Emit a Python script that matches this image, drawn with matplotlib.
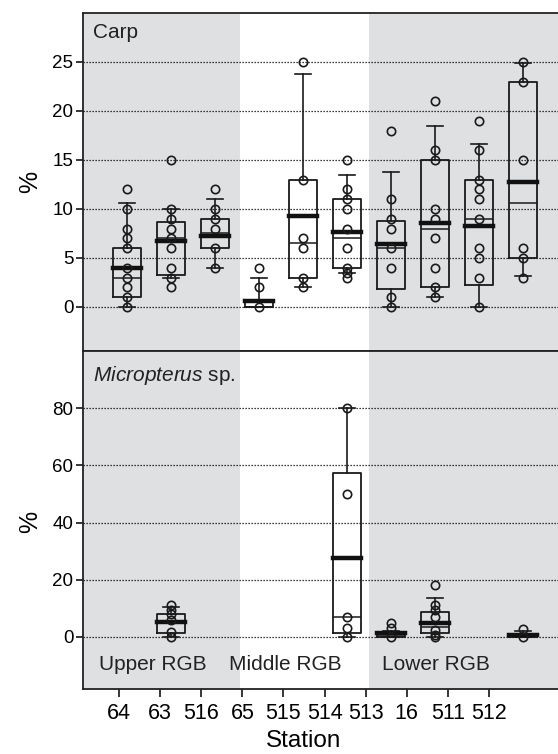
import numpy as np
import matplotlib
matplotlib.use("Agg")
import matplotlib.pyplot as plt

plt.rcParams['font.family'] = ['Liberation Sans', 'DejaVu Sans']
plt.rcParams['mathtext.fontset'] = 'custom'
plt.rcParams['mathtext.it'] = 'Liberation Sans:italic'
plt.rcParams['mathtext.rm'] = 'Liberation Sans'

stations = ['64', '63', '516', '65', '515', '514', '513', '16', '511', '512']
region_names = ['Upper RGB', 'Middle RGB', 'Lower RGB']

# Carp (top panel) summary statistics per station
carp_q1 = [1.0, 3.3, 6.0, 0.0, 3.0, 4.0, 1.8, 2.0, 2.2, 5.0]
carp_q3 = [6.0, 8.7, 9.0, 0.5, 13.0, 11.0, 8.8, 15.0, 13.0, 23.0]
carp_med = [3.0, 7.0, 7.5, 0.0, 6.5, 7.0, 6.0, 8.0, 9.0, 10.6]
carp_mean = [4.0, 6.7, 7.25, 0.6, 9.3, 7.7, 6.4, 8.6, 8.3, 12.8]
carp_whislo = [0.0, 3.0, 4.0, 0.0, 2.0, 3.5, 0.0, 1.0, 0.0, 3.2]
carp_whishi = [10.6, 10.0, 11.0, 3.0, 23.8, 13.5, 13.8, 18.5, 16.6, 24.9]
carp_points = [
    [12, 10, 8, 7, 6, 4, 3, 2, 1, 0],
    [15, 10, 9, 8, 7, 6, 4, 3, 2],
    [12, 10, 9, 8, 6, 4],
    [4, 2, 0],
    [25, 13, 7, 6, 3, 2],
    [15, 12, 11, 10, 8, 6, 4, 3.5, 3],
    [18, 11, 9, 8, 6, 4, 1, 0],
    [21, 16, 15, 10, 9, 7, 4, 2, 1],
    [19, 16, 13, 12, 11, 9, 6, 5, 3, 0],
    [25, 23, 15, 6, 5, 3],
]

# Micropterus sp. (bottom panel)
micro_stations = ['63', '514', '513', '16', '512']
micro_q1 = [1.5, 1.3, 0.0, 1.3, 0.0]
micro_q3 = [7.9, 57.2, 1.0, 8.8, 1.0]
micro_med = [5.0, 6.9, 0.5, 3.6, 0.3]
micro_mean = [5.4, 27.6, 1.3, 5.0, 0.8]
micro_whislo = [0.0, 0.0, 0.0, 0.0, 0.0]
micro_whishi = [10.6, 80.0, 2.2, 13.7, 2.0]
micro_points = [
    [11.2, 9.4, 8, 6, 1.8, 0],
    [80, 50, 7, 3, 0],
    [4.8, 3, 0],
    [18.2, 11.2, 9.4, 7, 2.4, 0.7, 0],
    [2.7, 0],
]

W, H = 558, 754
fig = plt.figure(figsize=(W / 100, H / 100), dpi=100)

def px_rect(left, top, right, bottom):
    return [left / W, 1 - bottom / H, (right - left) / W, (bottom - top) / H]

ax1 = fig.add_axes(px_rect(83, 13, 558, 351))
ax2 = fig.add_axes(px_rect(83, 351, 558, 689))

XMAX = (558 - 83) / 44.0
shade = '#dfe0e2'

def style_axis(ax, ylim, yticks):
    ax.set_xlim(0, XMAX)
    ax.set_ylim(*ylim)
    ax.axvspan(0, 3.57, color=shade, zorder=0, lw=0)
    ax.axvspan(6.5, XMAX, color=shade, zorder=0, lw=0)
    ax.set_yticks(yticks)
    for y in yticks:
        ax.axhline(y, color='black', lw=0.9, ls=(0, (1, 1.4)), zorder=0.5)
    for s in ['top', 'left', 'bottom']:
        ax.spines[s].set_linewidth(1.3)
        ax.spines[s].set_color('#222222')
    ax.spines['right'].set_visible(False)
    ax.tick_params(axis='y', direction='out', length=5, width=1.1, pad=2, labelsize=13.5)

def draw(ax, positions, q1, q3, med, mean, lo, hi, pts):
    stats = []
    for i in range(len(positions)):
        stats.append(dict(q1=q1[i], q3=q3[i], med=med[i], mean=mean[i],
                          whislo=lo[i], whishi=hi[i], fliers=[]))
    ax.bxp(stats, positions=positions, widths=0.64, capwidths=0.36,
           showmeans=True, meanline=True, showfliers=False,
           boxprops=dict(color='#1a1a1a', lw=1.3),
           whiskerprops=dict(color='#1a1a1a', lw=1.2),
           capprops=dict(color='#1a1a1a', lw=1.2),
           medianprops=dict(color='#1a1a1a', lw=1.1),
           meanprops=dict(color='#111111', lw=3.2, ls='-', solid_capstyle='projecting'),
           manage_ticks=False, zorder=2)
    for p, vals in zip(positions, pts):
        ax.plot(np.full(len(vals), p), vals, 'o', mfc='none', mec='#1a1a1a',
                ms=6.0, mew=1.2, zorder=3)

style_axis(ax1, (-4.49, 30.0), [0, 5, 10, 15, 20, 25])
pos_all = np.arange(1, len(stations) + 1)
draw(ax1, pos_all, carp_q1, carp_q3, carp_med, carp_mean, carp_whislo, carp_whishi, carp_points)
ax1.set_xticks([])
ax1.text(10 / 475, 1 - 20 / 338, 'Carp', transform=ax1.transAxes, fontsize=15,
         ha='left', va='center', color='#222222')

style_axis(ax2, (-18.2, 100.0), [0, 20, 40, 60, 80])
pos_micro = [stations.index(s) + 1 for s in micro_stations]
draw(ax2, pos_micro, micro_q1, micro_q3, micro_med, micro_mean, micro_whislo, micro_whishi, micro_points)
ax2.text(10 / 475, 1 - 24 / 338, r'$\it{Micropterus}$ sp.', transform=ax2.transAxes,
         fontsize=15, ha='left', va='center', color='#222222')

# region labels
region_x = [(153 - 83) / 44, (285 - 83) / 44, (436 - 83) / 44]
for name, x in zip(region_names, region_x):
    ax2.text(x, -9.8, name, ha='center', va='center', fontsize=15, color='#222222')

tick_pos = np.linspace((119 - 83) / 44, (489 - 83) / 44, len(stations))
ax2.set_xticks(tick_pos)
ax2.set_xticklabels(stations)
ax2.tick_params(axis='x', direction='out', length=6, width=1.1, pad=4, labelsize=15.5)

fig.text(30 / W, 1 - 182 / H, '%', ha='center', va='center', rotation=90, fontsize=18)
fig.text(30 / W, 1 - 522 / H, '%', ha='center', va='center', rotation=90, fontsize=18)
fig.text(304 / W, 1 - 741 / H, 'Station', ha='center', va='center', fontsize=17.5)

fig.savefig('out.png', dpi=100)
